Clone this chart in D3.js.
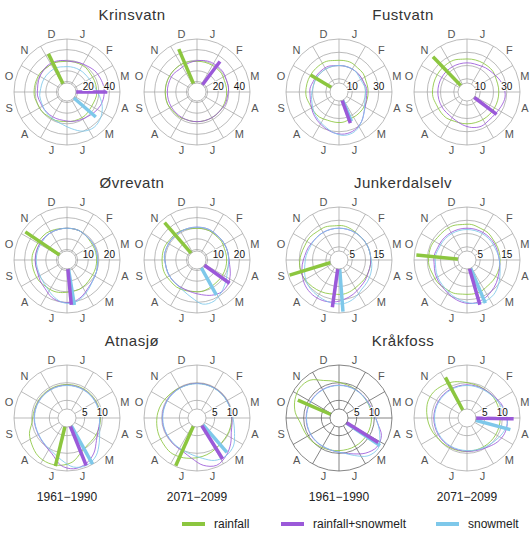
<!DOCTYPE html>
<html>
<head>
<meta charset="utf-8">
<script src="https://cdn.jsdelivr.net/npm/d3@7"></script>
<style>
  body { margin: 0; background: #fff; }
  text { font-family: "Liberation Sans", Arial, sans-serif; }
</style>
</head>
<body>
<svg id="chart" width="532" height="536"></svg>
<script>
// stations, periods, months and series
const stations = ["Krinsvatn", "Fustvatn", "Øvrevatn", "Junkerdalselv", "Atnasjø", "Kråkfoss"];
const periods = ["1961\u22121990", "2071\u22122099"];
const months = ["J", "F", "M", "A", "M", "J", "J", "A", "S", "O", "N", "D"];
const series = ["rainfall", "rainfall+snowmelt", "snowmelt"];

// radial axis per station
const radialMax = [50, 40, 25, 20, 15, 15];
const ringStep = [10, 10, 5, 5, 5, 5];
const tickLabels = [[20, 40], [10, 30], [10, 20], [5, 15], [5, 10], [5, 10]];

// half-monthly seasonal cycle, [1961-1990, 2071-2099] per station
const rainfallCycle = [
  [[29,29,29,28,28,28,28,27,27,28,28,28,28,29,29,30,30,31,31,31,31,30,30,29],
   [29,29,29,29,28,28,28,28,28,28,28,28,28,28,29,29,30,30,30,30,30,30,30,29]],
  [[24,24,23,23,22,22,22,22,22,22,22,23,23,23,24,24,24,25,25,25,25,25,25,24],
   [25,25,25,25,24,24,24,24,24,24,24,24,24,24,25,25,25,26,26,26,26,26,26,25]],
  [[15,15,14.5,14,14,14,14,14,14,14.5,15,15,15.5,16,16,16.5,16.5,16.5,16.5,16,16,16,15.5,15],
   [15,15,14.5,14.5,14,14,14,14,14,14,14.5,15,15,15.5,16,16,16.5,16.5,16.5,16.5,16,16,15.5,15]],
  [[13,12.5,12,12,12,12,12,12,12,12,12.5,13,13,13.5,14,14.5,15,15,14.5,14,14,13.5,13.5,13],
   [13.5,13,13,12.5,12.5,12.5,12.5,12.5,12.5,12.5,13,13,13,13.5,13.5,14,14,14.5,14.5,14.5,14,14,14,13.5]],
  [[9.5,9.5,9.5,9.5,9.5,9.5,9.5,9.5,9.5,9.6,10.5,12.5,13.5,13.8,13.5,12.5,11.5,10,9.6,9.5,9.5,9.5,9.5,9.5],
   [9.8,9.8,9.8,9.8,9.8,9.8,9.8,9.8,9.8,10,10.5,11,11.5,12,12.3,12,11.8,11.5,11.2,10.8,10.3,10,9.8,9.8]],
  [[9.8,9.5,9.3,9.2,9.2,9.2,9.2,9.2,9.2,9.2,9.2,9.2,9.3,9.5,9.8,10.2,10.5,11,12.5,13.5,14,13.5,11.5,10.5],
   [9.8,9.6,9.5,9.5,9.4,9.4,9.4,9.4,9.4,9.4,9.4,9.4,9.5,9.6,9.8,10,10.5,11,11.5,12,12,11.5,11,10.3]]
];
const mixCycle = [
  [[29,30,31,33,34,35,35,34,32,30,29,28,27,27,27,27,27,28,28,29,30,31,31,30],
   [30,31,31,31,30,30,29,29,28,28,28,28,28,28,28,28,28,28,28,28,28,27,28,29]],
  [[20,20,20,20,20,21,21,22,24,28,31,32,31,29,27,25,23,22,22,21,21,21,21,20],
   [22,22,23,24,26,28,29,28,27,27,28,27,25,23,22,22,22,22,22,22,22,22,22,22]],
  [[15,15,14.5,14.5,14.5,14.5,14.5,15,15.5,16.5,18.5,20,20,19,17,16,15,15,15,15,15,15,15,15],
   [15.5,15.5,15,15,15,15,15.5,17,18.5,19,18,16.5,15.5,15,15,15,15,15,15.5,15.5,15.5,15.5,15.5,15.5]],
  [[12,12,12,12,12,12,12,12,12.5,13,14,15,16,16.5,16.5,16,15,14,13,12.5,12,12,12,12],
   [12,12,12,12,12,12,12.5,13,14,15,16,16.5,16,15,14,13.5,13,12.5,12.5,12,12,12,12,12]],
  [[9.3,9.3,9.3,9.3,9.3,9.3,9.3,9.5,10.5,12.5,14,14.5,13.5,11,10,9.5,9.3,9.3,9.3,9.3,9.3,9.3,9.3,9.3],
   [9.8,9.8,9.8,9.8,9.8,9.8,10,10.5,12,13.5,14.5,13.5,11.5,10.3,10,9.8,9.8,9.8,9.8,9.8,9.8,9.8,9.8,9.8]],
  [[9.3,9.3,9.3,9.3,9.5,10,11,13,13.5,12.5,11,10,9.5,9.3,9.3,9.3,9.3,9.3,9.3,9.3,9.3,9.3,9.3,9.3],
   [9.4,9.4,9.5,9.8,10.5,11,11.5,11.5,11,10.2,9.7,9.5,9.4,9.4,9.4,9.4,9.4,9.4,9.4,9.4,9.4,9.4,9.4,9.4]]
];
const snowCycle = [
  [[24,24,24,24,25,27,31,36,40,42,40,35,31,29,28,27,26,26,25,25,25,25,25,24],
   [2,2,2,2,2,2,2,2,2,2,2,2,2,2,2,2,2,2,2,2,2,2,2,2]],
  [[20,20,20,19,19,20,20,21,24,28,32,33,31,28,26,24,22,21,20,20,20,20,20,20],
   [2,2,2,2,2,2,2,2,2,2,2,2,2,2,2,2,2,2,2,2,2,2,2,2]],
  [[15,15,14.5,14.5,14.5,14.5,14.5,15,15.5,17,19,20.5,20,18,16,15,14.5,14.5,14.5,14.5,14.5,15,15,15],
   [15.5,15.5,15,15,15,15,15,15.5,17,19,21,21,18,16,15,15,15,15,15.5,15.5,15.5,15.5,15.5,15.5]],
  [[12,12,12,12,12,12,12.5,13,13.5,14,15.5,16.5,16.5,16,15.5,15,14,13,12.5,12,12,12,12,12],
   [11.5,11.5,11.5,11.5,11.5,12,12.5,13.5,15,16.5,17,16.5,15.5,14.5,13.5,13,12.5,12,12,11.5,11.5,11.5,11.5,11.5]],
  [[9.2,9.2,9.2,9.2,9.2,9.2,9.3,10,11.5,13.5,14.5,14,12,10.5,9.8,9.4,9.2,9.2,9.2,9.2,9.2,9.2,9.2,9.2],
   [9.7,9.7,9.7,9.7,9.7,10,10.5,11.5,13,13.5,13,11.5,10.5,10,9.8,9.7,9.7,9.7,9.7,9.7,9.7,9.7,9.7,9.7]],
  [[9.2,9.2,9.2,9.2,9.3,9.8,11,12.5,14,13.5,11.5,10,9.5,9.2,9.2,9.2,9.2,9.2,9.2,9.2,9.2,9.2,9.2,9.2],
   [9.2,9.2,9.3,9.6,10.2,11,11.5,11,10.3,9.8,9.5,9.3,9.2,9.2,9.2,9.2,9.2,9.2,9.2,9.2,9.2,9.2,9.2,9.2]]
];

// mean timing (degrees from 1 Jan) and strength, [1961-1990, 2071-2099]
const rainfallVector = [
  [[334, 40], [337, 44]], [[301, 25], [316, 37]], [[304, 23.7], [319, 23.3]],
  [[253, 19.5], [275.6, 19.2]], [[193.6, 14], [204, 14.8]], [[293.5, 12.7], [332, 13]]
];
const mixVector = [
  [[90, 38], [37, 36]], [[160, 25], [127, 28]], [[174.5, 21.3], [125.5, 18.9]],
  [[188, 18], [164, 17.6]], [[158, 14.5], [148, 13.7]], [[122, 13.1], [91, 13.2]]
];
const snowVector = [
  [[131, 36], null], [[157, 24], null], [[170.7, 21.5], [151, 18.9]],
  [[175.6, 19.5], [157, 17.7]], [[151, 14.9], [139, 12.9]], [[124, 14], [105, 12.7]]
];

const colors = ["#8cc63f", "#9b59d9", "#7ec8ea"];
const cycles = [rainfallCycle, mixCycle, snowCycle];
const vectors = [rainfallVector, mixVector, snowVector];

const svg = d3.select("#chart");
const colX = [67, 197, 339, 467];
const rowY = [92, 260, 418];
const R = 53, hole = 9;
const rad = d => d * Math.PI / 180;

const angle = d3.scaleLinear().domain([0, 24]).range([0, 2 * Math.PI]);

stations.forEach((name, s) => {
  const row = Math.floor(s / 2), pair = s % 2;
  const r = d3.scaleLinear().domain([0, radialMax[s]]).range([0, R]);

  svg.append("text")
    .attr("x", (colX[pair * 2] + colX[pair * 2 + 1]) / 2)
    .attr("y", rowY[row] - 78)
    .attr("text-anchor", "middle")
    .attr("dominant-baseline", "central")
    .attr("font-size", 15)
    .attr("letter-spacing", 0.5)
    .attr("fill", "#333")
    .text(name);

  periods.forEach((per, p) => {
    const g = svg.append("g")
      .attr("transform", `translate(${colX[pair * 2 + p]},${rowY[row]})`);
    const gridColor = (s === 5 && p === 0) ? "#666" : "#aaa";

    // rings
    const rings = d3.range(ringStep[s], radialMax[s] + 0.001, ringStep[s]);
    g.selectAll(".ring").data(rings).enter().append("circle")
      .attr("r", d => r(d))
      .attr("fill", "none")
      .attr("stroke", gridColor)
      .attr("stroke-width", 0.8);

    // spokes at month boundaries
    g.selectAll(".spoke").data(d3.range(12)).enter().append("line")
      .attr("x1", d => hole * Math.sin(rad(d * 30)))
      .attr("y1", d => -hole * Math.cos(rad(d * 30)))
      .attr("x2", d => R * Math.sin(rad(d * 30)))
      .attr("y2", d => -R * Math.cos(rad(d * 30)))
      .attr("stroke", gridColor)
      .attr("stroke-width", 0.8);

    // month labels
    g.selectAll(".month").data(months).enter().append("text")
      .attr("x", (d, i) => 60 * Math.sin(rad(i * 30 + 15)))
      .attr("y", (d, i) => -60 * Math.cos(rad(i * 30 + 15)))
      .attr("text-anchor", "middle")
      .attr("dominant-baseline", "central")
      .attr("font-size", 11)
      .attr("fill", "#555")
      .text(d => d);

    // seasonal cycles
    const line = d3.lineRadial()
      .angle((d, i) => angle(i + 0.5))
      .radius(d => r(d))
      .curve(d3.curveCatmullRomClosed);
    cycles.forEach((c, k) => {
      g.append("path")
        .attr("d", line(c[s][p]))
        .attr("fill", "none")
        .attr("stroke", colors[k])
        .attr("stroke-width", 1)
        .attr("stroke-opacity", 0.85);
    });

    // mean vectors
    [2, 1, 0].forEach(k => {
      const v = vectors[k][s][p];
      if (!v) return;
      g.append("line")
        .attr("x1", 0).attr("y1", 0)
        .attr("x2", r(v[1]) * Math.sin(rad(v[0])))
        .attr("y2", -r(v[1]) * Math.cos(rad(v[0])))
        .attr("stroke", colors[k])
        .attr("stroke-width", 3.5);
    });

    // hole
    g.append("circle")
      .attr("r", hole)
      .attr("fill", "#fff")
      .attr("stroke", gridColor)
      .attr("stroke-width", 0.8);

    // tick labels
    g.selectAll(".tick").data(tickLabels[s]).enter().append("text")
      .attr("x", d => r(d))
      .attr("y", -2)
      .attr("text-anchor", "middle")
      .attr("font-size", 10)
      .attr("fill", "#111")
      .attr("stroke", "#fff")
      .attr("stroke-width", 2)
      .attr("paint-order", "stroke")
      .text(d => d);
  });
});

// period labels under bottom row
colX.forEach((x, c) => {
  svg.append("text")
    .attr("x", x)
    .attr("y", 497)
    .attr("text-anchor", "middle")
    .attr("dominant-baseline", "central")
    .attr("font-size", 12)
    .attr("fill", "#222")
    .text(periods[c % 2]);
});

// legend
const legX = [182, 281, 436];
series.forEach((name, k) => {
  svg.append("line")
    .attr("x1", legX[k]).attr("x2", legX[k] + 23)
    .attr("y1", 524).attr("y2", 524)
    .attr("stroke", colors[k])
    .attr("stroke-width", 4);
  svg.append("text")
    .attr("x", legX[k] + 32)
    .attr("y", 524)
    .attr("dominant-baseline", "central")
    .attr("font-size", 12)
    .attr("fill", "#222")
    .text(name);
});
</script>
</body>
</html>
